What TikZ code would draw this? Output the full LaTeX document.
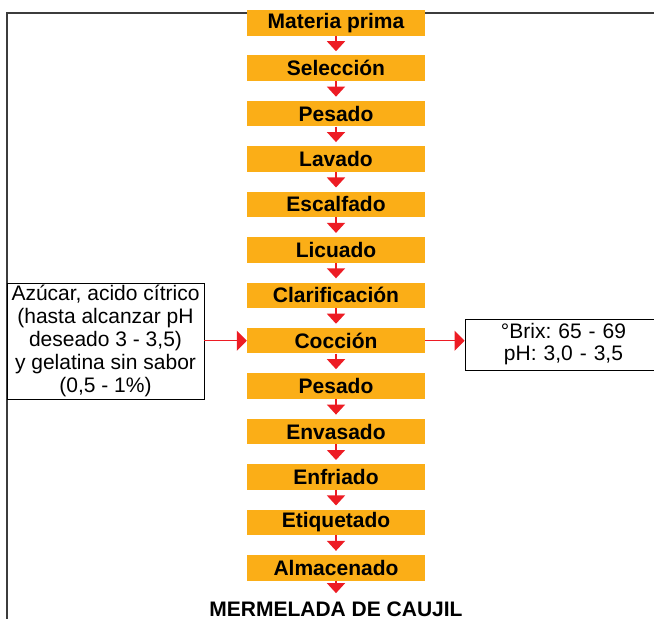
\documentclass[tikz,border=0pt]{standalone}
\usepackage{fontspec}
\setmainfont{Liberation Sans}
\usetikzlibrary{arrows.meta}
\frenchspacing
\definecolor{stepfill}{RGB}{251,174,23}
\definecolor{arrred}{RGB}{237,28,36}
\definecolor{framegray}{RGB}{60,60,60}
\tikzset{
  stepbox/.style={fill=stepfill, minimum width=178pt, minimum height=25.5pt, inner sep=0pt,
    font=\fontsize{21pt}{23pt}\selectfont\bfseries},
  flow/.style={draw=arrred, line width=1.6pt, -{Triangle[width=18pt,length=10pt]}},
  side/.style={draw=arrred, line width=1.2pt, -{Triangle[width=20pt,length=10pt]}},
  infobox/.style={draw=black, line width=0.9pt, inner sep=0pt, align=center,
    font=\fontsize{21pt}{23pt}\selectfont}
}
\begin{document}
\begin{tikzpicture}[x=1pt,y=-1pt]
\useasboundingbox (0,0) rectangle (654,619);
\fill[white] (0,0) rectangle (654,619);
\draw[framegray, line width=1.3pt] (7,625) -- (7,13) -- (654,13);
\foreach \name/\txt [count=\i from 0] in {s0/Materia prima, s1/Selección, s2/Pesado, s3/Lavado, s4/Escalfado, s5/Licuado, s6/Clarificación, s7/Cocción, s8/Pesado, s9/Envasado, s10/Enfriado, s11/Etiquetado, s12/Almacenado}
  \node[stepbox] (\name) at (336,{22.75+\i*45.42}) {\txt};
\foreach \a/\b in {s0/s1, s1/s2, s2/s3, s3/s4, s4/s5, s5/s6, s6/s7, s7/s8, s8/s9, s9/s10, s10/s11, s11/s12}
  \draw[flow] (\a.south) -- ([yshift=4pt]\b.north);
\node[font=\fontsize{21pt}{23pt}\selectfont\bfseries, anchor=base, inner sep=0pt] (prod) at (336,616) {MERMELADA DE CAUJIL};
\draw[flow] (s12.south) -- ([yshift=8pt]prod.north);
\node[infobox, minimum width=197pt, minimum height=116pt] (left) at (105.5,341)
  {Azúcar, acido cítrico\\(hasta alcanzar pH\\deseado 3 - 3,5)\\y gelatina sin sabor\\(0,5 - 1\%)};
\node[infobox, minimum width=197pt, minimum height=51pt, text width=197pt] (right) at (563.5,344.5)
  {°Brix: 65 - 69\\[-1pt]pH: 3,0 - 3,5};
\draw[side] (s7.west -| left.east) -- (s7.west);
\draw[side] (s7.east) -- (s7.east -| right.west);
\end{tikzpicture}
\end{document}
